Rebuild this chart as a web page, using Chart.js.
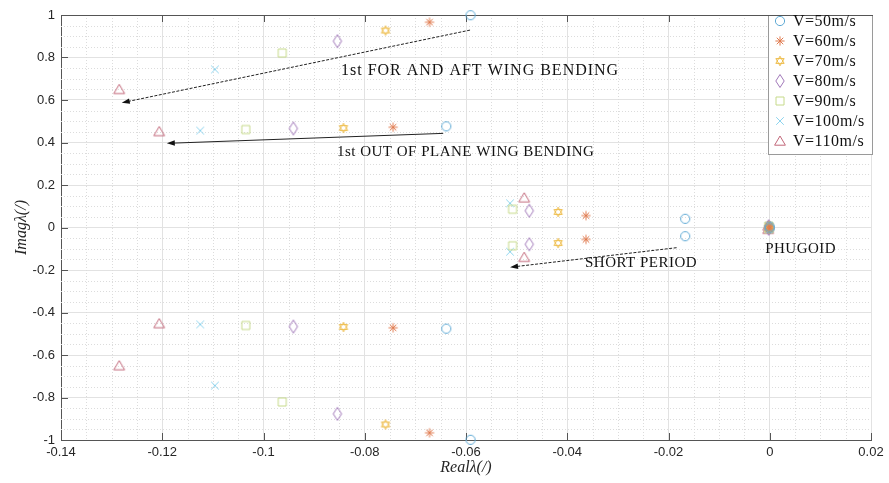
<!DOCTYPE html>
<html><head><meta charset="utf-8">
<script src="https://cdn.jsdelivr.net/npm/chart.js@4.4.0/dist/chart.umd.min.js"></script>
<style>html,body{margin:0;padding:0;background:#fff;}</style>
</head><body>
<canvas id="c" width="889" height="483"></canvas>
<script>
// ---- data ----
const speedLabels = ['V=50m/s','V=60m/s','V=70m/s','V=80m/s','V=90m/s','V=100m/s','V=110m/s'];
// 1st fore-and-aft wing bending (conjugate pair ± imag)
const realForeAft = [-0.0591,-0.0672,-0.0759,-0.0854,-0.0963,-0.1096,-0.1285];
const imagForeAft = [0.999,0.966,0.927,0.877,0.821,0.744,0.650];
// 1st out-of-plane wing bending
const realOutPlane = [-0.0639,-0.0744,-0.0842,-0.0941,-0.1035,-0.1125,-0.1206];
const imagOutPlane = [0.476,0.472,0.468,0.466,0.461,0.456,0.452];
// short period
const realShort = [-0.0167,-0.0363,-0.0418,-0.0475,-0.0508,-0.0513,-0.0485];
const imagShort = [0.041,0.056,0.073,0.079,0.086,0.114,0.140];
// phugoid
const realPhugoid = [0.0000,-0.0001,-0.0001,-0.0002,-0.0002,-0.0002,-0.0003];
const imagPhugoid = [0.004,0.005,0.006,0.006,0.007,0.007,0.008];

const xTicksMajor = [-0.14,-0.12,-0.1,-0.08,-0.06,-0.04,-0.02,0,0.02];
const yTicksMajor = [-1,-0.8,-0.6,-0.4,-0.2,0,0.2,0.4,0.6,0.8,1];

// ---- styles ----
const markerKinds = ['circle','asterisk','hexagram','diamond','square','cross','triangle'];
const colors = ['#5ea9d4','#e07a4e','#eebd4c','#a178b9','#c6da8a','#8dd4ee','#c2687a'];

function makeMarker(kind, color){
  const s = 18, c = document.createElement('canvas');
  c.width = s; c.height = s;
  const g = c.getContext('2d');
  const m = s/2;
  g.strokeStyle = color; g.lineWidth = 1; g.lineJoin='miter';
  g.beginPath();
  if (kind==='circle'){ g.arc(m,m,4.6,0,Math.PI*2); }
  else if (kind==='asterisk'){
    const r=4.6, d=r*Math.SQRT1_2;
    g.moveTo(m-r,m); g.lineTo(m+r,m); g.moveTo(m,m-r); g.lineTo(m,m+r);
    g.moveTo(m-d,m-d); g.lineTo(m+d,m+d); g.moveTo(m-d,m+d); g.lineTo(m+d,m-d);
  }
  else if (kind==='hexagram'){
    const r=4.8;
    for (const off of [-90,90]){
      for (let k=0;k<3;k++){
        const a=(off+k*120)*Math.PI/180;
        const px=m+r*Math.cos(a), py=m+r*Math.sin(a);
        if(k===0) g.moveTo(px,py); else g.lineTo(px,py);
      }
      g.closePath();
    }
  }
  else if (kind==='diamond'){ g.moveTo(m,m-6.5); g.lineTo(m+4.2,m); g.lineTo(m,m+6.5); g.lineTo(m-4.2,m); g.closePath(); }
  else if (kind==='square'){ g.rect(m-4,m-4,8,8); }
  else if (kind==='cross'){ const r=3.8; g.moveTo(m-r,m-r); g.lineTo(m+r,m+r); g.moveTo(m-r,m+r); g.lineTo(m+r,m-r); }
  else if (kind==='triangle'){ g.moveTo(m,m-5); g.lineTo(m+5.4,m+4.2); g.lineTo(m-5.4,m+4.2); g.closePath(); }
  g.stroke();
  return c;
}
const markerImgs = markerKinds.map((k,i)=>makeMarker(k,colors[i]));

const datasets = speedLabels.map((lab,i)=>({
  label: lab,
  data: [
    {x:realForeAft[i], y:imagForeAft[i]}, {x:realForeAft[i], y:-imagForeAft[i]},
    {x:realOutPlane[i], y:imagOutPlane[i]}, {x:realOutPlane[i], y:-imagOutPlane[i]},
    {x:realShort[i], y:imagShort[i]}, {x:realShort[i], y:-imagShort[i]},
    {x:realPhugoid[i], y:imagPhugoid[i]}, {x:realPhugoid[i], y:-imagPhugoid[i]}
  ],
  pointStyle: markerImgs[i],
  borderColor: colors[i],
  backgroundColor: colors[i],
  showLine:false,
  clip:false
}));

// annotations (data coordinates)
const notes = [
  {text:'1st FOR AND AFT WING BENDING', x:-0.0847, y:0.736, size:16, sp:'1px'},
  {text:'1st OUT OF PLANE WING BENDING', x:-0.0855, y:0.357, size:15, sp:'0.5px'},
  {text:'SHORT PERIOD', x:-0.0365, y:-0.167, size:15, sp:'0.5px'},
  {text:'PHUGOID', x:-0.0009, y:-0.101, size:15, sp:'0.5px'}
];
const arrows = [
  {x0:-0.0592, y0:0.929, x1:-0.1280, y1:0.587, dash:[3,1.5]},
  {x0:-0.0645, y0:0.443, x1:-0.1191, y1:0.396, dash:[]},
  {x0:-0.0184, y0:-0.095, x1:-0.0513, y1:-0.187, dash:[3,1.5]}
];

const fmtX = v => String(Math.round(v*100)/100);
const fmtY = v => String(Math.round(v*10)/10);

const decor = {
  id:'decor',
  beforeDatasetsDraw(chart){
    const {ctx, chartArea:a, scales:{x,y}} = chart;
    ctx.save();
    ctx.strokeStyle='#dcdcdc'; ctx.lineWidth=1; ctx.setLineDash([1,2]);
    for (let i=0;i<=32;i++){
      if (i%4===0) continue;
      const px=Math.round(x.getPixelForValue(-0.14+i*0.005))+0.5;
      ctx.beginPath(); ctx.moveTo(px,a.top); ctx.lineTo(px,a.bottom); ctx.stroke();
    }
    for (let j=0;j<=40;j++){
      if (j%4===0) continue;
      const py=Math.round(y.getPixelForValue(-1+j*0.05))+0.5;
      ctx.beginPath(); ctx.moveTo(a.left,py); ctx.lineTo(a.right,py); ctx.stroke();
    }
    ctx.setLineDash([]);
    // inside ticks + top border
    ctx.strokeStyle='#555'; ctx.lineWidth=1;
    xTicksMajor.forEach(v=>{
      const px=Math.round(x.getPixelForValue(v))+0.5;
      ctx.beginPath(); ctx.moveTo(px,a.bottom); ctx.lineTo(px,a.bottom-7);
      ctx.moveTo(px,a.top); ctx.lineTo(px,a.top+7); ctx.stroke();
    });
    yTicksMajor.forEach(v=>{
      const py=Math.round(y.getPixelForValue(v))+0.5;
      ctx.beginPath(); ctx.moveTo(a.left,py); ctx.lineTo(a.left+7,py); ctx.stroke();
    });
    ctx.beginPath(); ctx.moveTo(a.left,Math.round(a.top)+0.5); ctx.lineTo(a.right,Math.round(a.top)+0.5); ctx.stroke();
    ctx.restore();
  },
  afterDatasetsDraw(chart){
    const {ctx, chartArea:a, scales:{x,y}} = chart;
    ctx.save();
    // arrows
    arrows.forEach(ar=>{
      const X0=x.getPixelForValue(ar.x0), Y0=y.getPixelForValue(ar.y0);
      const X1=x.getPixelForValue(ar.x1), Y1=y.getPixelForValue(ar.y1);
      const ang=Math.atan2(Y1-Y0,X1-X0);
      ctx.strokeStyle='#222'; ctx.lineWidth=1; ctx.setLineDash(ar.dash);
      ctx.beginPath(); ctx.moveTo(X0,Y0); ctx.lineTo(X1-6*Math.cos(ang),Y1-6*Math.sin(ang)); ctx.stroke();
      ctx.setLineDash([]);
      ctx.fillStyle='#111';
      ctx.beginPath();
      ctx.moveTo(X1,Y1);
      ctx.lineTo(X1-8*Math.cos(ang)+2.8*Math.sin(ang), Y1-8*Math.sin(ang)-2.8*Math.cos(ang));
      ctx.lineTo(X1-8*Math.cos(ang)-2.8*Math.sin(ang), Y1-8*Math.sin(ang)+2.8*Math.cos(ang));
      ctx.closePath(); ctx.fill();
    });
    // notes
    ctx.fillStyle='#111'; ctx.textAlign='left'; ctx.textBaseline='middle';
    notes.forEach(n=>{
      ctx.font=n.size+'px "Liberation Serif"';
      ctx.letterSpacing=n.sp;
      ctx.fillText(n.text, x.getPixelForValue(n.x), y.getPixelForValue(n.y));
    });

    // legend
    const lx=768, ly=Math.round(a.top), lw=Math.round(a.right)-768+2, lh=140;
    ctx.fillStyle='#fff'; ctx.fillRect(lx,ly,lw,lh);
    ctx.strokeStyle='#9a9a9a'; ctx.lineWidth=1;
    ctx.strokeRect(lx+0.5,ly+0.5,lw-1,lh-1);
    ctx.strokeStyle='#555';
    ctx.beginPath(); ctx.moveTo(lx,ly+0.5); ctx.lineTo(lx+lw,ly+0.5); ctx.stroke();
    ctx.font='16px "Liberation Serif"'; ctx.letterSpacing='0.5px';
    ctx.fillStyle='#111';
    speedLabels.forEach((lab,i)=>{
      const cy=ly+6+20*i;
      const img=markerImgs[i];
      ctx.drawImage(img, 780-img.width/2, cy-img.height/2);
      ctx.fillText(lab, 793, cy+1);
    });
    ctx.restore();
  }
};

new Chart(document.getElementById('c'), {
  type:'scatter',
  data:{datasets},
  options:{
    responsive:false, animation:false, devicePixelRatio:1,
    layout:{padding:{top:15,right:18,left:0,bottom:0}},
    plugins:{legend:{display:false}, tooltip:{enabled:false}},
    scales:{
      x:{
        type:'linear', min:-0.14, max:0.02,
        afterFit(s){ s.height=43; },
        afterBuildTicks(s){ s.ticks = xTicksMajor.map(v=>({value:v})); },
        ticks:{ padding:5, color:'#262626', font:{family:'Liberation Sans', size:13}, callback:v=>fmtX(v), autoSkip:false, maxRotation:0 },
        grid:{ color:'#e2e2e2', drawTicks:false },
        border:{ display:true, color:'#555', width:1 },
        title:{ display:true, text:'Realλ(/)', color:'#262626', font:{family:'Liberation Serif', size:16, style:'italic'}, padding:{top:0,bottom:6} }
      },
      y:{
        type:'linear', min:-1, max:1,
        afterFit(s){ s.width=61; },
        afterBuildTicks(s){ s.ticks = yTicksMajor.map(v=>({value:v})); },
        ticks:{ padding:6, color:'#262626', font:{family:'Liberation Sans', size:13}, callback:v=>fmtY(v), autoSkip:false },
        grid:{ color:'#e2e2e2', drawTicks:false },
        border:{ display:true, color:'#555', width:1 },
        title:{ display:true, text:'Imagλ(/)', color:'#262626', font:{family:'Liberation Serif', size:16, style:'italic'}, padding:{top:12,bottom:0} }
      }
    }
  },
  plugins:[decor]
});
</script>
</body></html>
